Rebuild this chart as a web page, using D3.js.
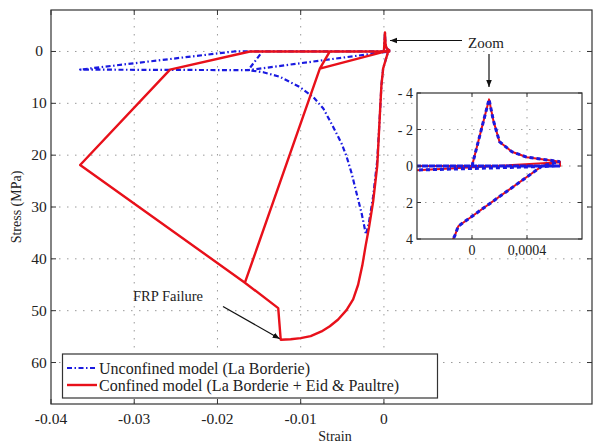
<!DOCTYPE html>
<html><head><meta charset="utf-8">
<script src="https://cdn.jsdelivr.net/npm/d3@7"></script>
<style>body{margin:0;background:#fff}</style>
</head><body><svg id="c" width="594" height="446"></svg>
<script>
// ---- data ----
const xTicks = [-0.04, -0.03, -0.02, -0.01, 0];
const xTickLabels = ["-0.04", "-0.03", "-0.02", "-0.01", "0"];
const yTicks = [0, 10, 20, 30, 40, 50, 60];
const yTickLabels = ["0", "10", "20", "30", "40", "50", "60"];
const insetXTicks = [0, 0.0004];
const insetXTickLabels = ["0", "0,0004"];
const insetYTicks = [-4, -2, 0, 2, 4];
const insetYTickLabels = ["- 4", "- 2", "0", "2", "4"];
const seriesNames = ["Unconfined model (La Borderie)", "Confined model (La Borderie + Eid & Paultre)"];

const confinedStrain = [0, 0.000124, 0.000155, 0.0002, 0.00029, 0.0004, 0.00059, 0.00064, 0.00051,
  -0.0001, -0.000124, -0.0003, -0.0005, -0.0008, -0.0013, -0.0018, -0.0022, -0.0026, -0.0031, -0.0037,
  -0.0045, -0.0055, -0.0065, -0.0075, -0.0088, -0.0100, -0.0112, -0.0124, -0.0127, -0.0167, -0.0077,
  -0.0065, 0.00064, 0.00064, -0.0077, -0.0167, -0.0365, -0.0257, -0.0161, 0.00064];
const confinedStress = [0, -3.65, -2.5, -1.33, -0.78, -0.48, -0.29, -0.24, 0,
  3.3, 3.8, 6.5, 12.6, 22, 29, 34, 37.5, 41.3, 45, 47.8,
  49.9, 51.7, 53, 54, 54.9, 55.3, 55.5, 55.6, 49.5, 44.6, 3.3,
  0, 0, -0.2, 3.3, 44.6, 21.9, 3.5, 0, 0];

const unconfinedStrain = [0, 0.000124, 0.000155, 0.0002, 0.00029, 0.0004, 0.00059, 0.00064, 0.00051,
  -0.0001, -0.000124, -0.0003, -0.0005, -0.0008, -0.0013, -0.0018, -0.00216, -0.00268, -0.00328,
  -0.00388, -0.00448, -0.00508, -0.00608, -0.00728, -0.00848, -0.01008, -0.01248, -0.0145, -0.0163,
  -0.0146, 0.00064, -0.0163, -0.0365, -0.0180, 0.00064];
const unconfinedStress = [0, -3.65, -2.5, -1.33, -0.78, -0.48, -0.29, -0.24, 0,
  3.3, 3.8, 6.5, 12.6, 21, 28, 33, 35.3, 31.2, 27.4,
  23.5, 20.3, 17.8, 14.6, 11.0, 8.8, 6.9, 4.9, 4.0, 3.6,
  0, 0, 3.6, 3.5, 0, 0];

// ---- setup ----
const svg = d3.select("#c");
const FONT = "'Liberation Serif','Times New Roman',serif";
const TXT = "#222";
const RED = "#e8101a", BLUE = "#1a1ae0";
const M = {l: 51, r: 592, t: 10, b: 404};
const x = d3.scaleLinear().domain([-0.04, 0.025]).range([M.l, M.r]);
const y = d3.scaleLinear().domain([-8, 68]).range([M.t, M.b]);

const conf = confinedStrain.map((s, i) => [s, confinedStress[i]]);
const unconf = unconfinedStrain.map((s, i) => [s, unconfinedStress[i]]);

const defs = svg.append("defs");
defs.append("clipPath").attr("id", "mainclip").append("rect")
  .attr("x", M.l).attr("y", M.t).attr("width", M.r - M.l).attr("height", M.b - M.t);
const mk = defs.append("marker").attr("id", "arr").attr("viewBox", "0 0 10 10")
  .attr("refX", 10).attr("refY", 5).attr("markerWidth", 7).attr("markerHeight", 7)
  .attr("markerUnits", "userSpaceOnUse").attr("orient", "auto");
mk.append("path").attr("d", "M0,1 L10,5 L0,9 Z").attr("fill", "#111");

// grid
const g = svg.append("g");
g.selectAll(".gx").data(xTicks.slice(1)).enter().append("line")
  .attr("x1", d => x(d)).attr("x2", d => x(d)).attr("y1", M.t).attr("y2", M.b)
  .attr("stroke", "#9a9a9a").attr("stroke-width", 1).attr("stroke-dasharray", "1.5,6.5");
g.selectAll(".gy").data(yTicks).enter().append("line")
  .attr("x1", M.l).attr("x2", M.r).attr("y1", d => y(d)).attr("y2", d => y(d))
  .attr("stroke", "#9a9a9a").attr("stroke-width", 1).attr("stroke-dasharray", "1.5,6.5");

// curves
const line = d3.line().x(d => x(d[0])).y(d => y(d[1]));
const cg = svg.append("g").attr("clip-path", "url(#mainclip)");
cg.append("path").attr("d", line(unconf)).attr("fill", "none").attr("stroke", BLUE)
  .attr("stroke-width", 2.2).attr("stroke-dasharray", "5,2.5,1.5,2.5").attr("stroke-linejoin", "round");
cg.append("path").attr("d", line(conf)).attr("fill", "none").attr("stroke", RED)
  .attr("stroke-width", 2.4).attr("stroke-linejoin", "round");

// frame and ticks
const fr = svg.append("g");
fr.append("rect").attr("x", M.l).attr("y", M.t).attr("width", M.r - M.l).attr("height", M.b - M.t)
  .attr("fill", "none").attr("stroke", "#333").attr("stroke-width", 1.2);
xTicks.forEach(t => {
  fr.append("line").attr("x1", x(t)).attr("x2", x(t)).attr("y1", M.b).attr("y2", M.b - 5).attr("stroke", "#333");
  fr.append("line").attr("x1", x(t)).attr("x2", x(t)).attr("y1", M.t).attr("y2", M.t + 5).attr("stroke", "#333");
});
yTicks.forEach(t => {
  fr.append("line").attr("x1", M.l).attr("x2", M.l + 5).attr("y1", y(t)).attr("y2", y(t)).attr("stroke", "#333");
  fr.append("line").attr("x1", M.r).attr("x2", M.r - 5).attr("y1", y(t)).attr("y2", y(t)).attr("stroke", "#333");
});
fr.selectAll(".xl").data(xTicks).enter().append("text")
  .attr("x", d => x(d)).attr("y", 424).attr("text-anchor", "middle")
  .attr("font-family", FONT).attr("font-size", 15.5).attr("fill", TXT)
  .text((d, i) => xTickLabels[i]);
fr.selectAll(".yl").data(yTicks).enter().append("text")
  .attr("x", 39).attr("y", d => y(d) + 5).attr("text-anchor", "middle")
  .attr("font-family", FONT).attr("font-size", 15.5).attr("fill", TXT)
  .text((d, i) => yTickLabels[i]);
svg.append("text").attr("x", 335).attr("y", 441).attr("text-anchor", "middle")
  .attr("font-family", FONT).attr("font-size", 14).attr("fill", TXT).text("Strain");
svg.append("text").attr("transform", "translate(21,207) rotate(-90)").attr("text-anchor", "middle")
  .attr("font-family", FONT).attr("font-size", 14).attr("fill", TXT).text("Stress (MPa)");

// legend
const lg = svg.append("g");
lg.append("rect").attr("x", 62.5).attr("y", 354).attr("width", 375).attr("height", 44)
  .attr("fill", "#fff").attr("stroke", "#333").attr("stroke-width", 1.2);
const legY = [368, 385];
lg.append("line").attr("x1", 67).attr("x2", 97).attr("y1", legY[0]).attr("y2", legY[0])
  .attr("stroke", BLUE).attr("stroke-width", 2.2).attr("stroke-dasharray", "5,2.5,1.5,2.5");
lg.append("line").attr("x1", 67).attr("x2", 97).attr("y1", legY[1]).attr("y2", legY[1])
  .attr("stroke", RED).attr("stroke-width", 2.4);
seriesNames.forEach((n, i) => {
  lg.append("text").attr("x", 99).attr("y", legY[i] + 5.5).attr("font-family", FONT)
    .attr("font-size", 16).attr("fill", TXT).text(n);
});

// annotations
svg.append("text").attr("x", 133).attr("y", 301).attr("font-family", FONT).attr("font-size", 14.5)
  .attr("fill", TXT).text("FRP Failure");
svg.append("line").attr("x1", 223).attr("y1", 306.5).attr("x2", x(-0.0124) - 1).attr("y2", y(55.6) - 1)
  .attr("stroke", "#111").attr("stroke-width", 1.2).attr("marker-end", "url(#arr)");
svg.append("text").attr("x", 468).attr("y", 48).attr("font-family", FONT).attr("font-size", 15)
  .attr("fill", TXT).text("Zoom");
svg.append("line").attr("x1", 462).attr("y1", 40.5).attr("x2", 390).attr("y2", 40.5)
  .attr("stroke", "#111").attr("stroke-width", 1.2).attr("marker-end", "url(#arr)");
svg.append("line").attr("x1", 489).attr("y1", 54).attr("x2", 489).attr("y2", 87)
  .attr("stroke", "#111").attr("stroke-width", 1.2).attr("marker-end", "url(#arr)");

// ---- inset ----
const I = {l: 417, r: 582, t: 93, b: 239};
const xi = d3.scaleLinear().domain([-0.0004, 0.0008]).range([I.l, I.r]);
const yi = d3.scaleLinear().domain([-4, 4]).range([I.t, I.b]);
defs.append("clipPath").attr("id", "insclip").append("rect")
  .attr("x", I.l).attr("y", I.t).attr("width", I.r - I.l).attr("height", I.b - I.t);
const ig = svg.append("g");
ig.append("rect").attr("x", I.l).attr("y", I.t).attr("width", I.r - I.l).attr("height", I.b - I.t)
  .attr("fill", "#fff");
ig.selectAll(".igx").data(insetXTicks).enter().append("line")
  .attr("x1", d => xi(d)).attr("x2", d => xi(d)).attr("y1", I.t).attr("y2", I.b)
  .attr("stroke", "#9a9a9a").attr("stroke-dasharray", "1.5,6.5");
ig.selectAll(".igy").data(insetYTicks.slice(1, -1)).enter().append("line")
  .attr("x1", I.l).attr("x2", I.r).attr("y1", d => yi(d)).attr("y2", d => yi(d))
  .attr("stroke", "#9a9a9a").attr("stroke-dasharray", "1.5,6.5");
const iline = d3.line().x(d => xi(d[0])).y(d => yi(d[1]));
const icg = ig.append("g").attr("clip-path", "url(#insclip)");
icg.append("path").attr("d", iline(conf)).attr("fill", "none").attr("stroke", RED)
  .attr("stroke-width", 2).attr("stroke-linejoin", "round");
icg.append("path").attr("d", iline(unconf)).attr("fill", "none").attr("stroke", BLUE)
  .attr("stroke-width", 3).attr("stroke-dasharray", "4,3");
ig.append("rect").attr("x", I.l).attr("y", I.t).attr("width", I.r - I.l).attr("height", I.b - I.t)
  .attr("fill", "none").attr("stroke", "#333").attr("stroke-width", 1.2);
insetXTicks.forEach(t => {
  ig.append("line").attr("x1", xi(t)).attr("x2", xi(t)).attr("y1", I.t).attr("y2", I.t + 4).attr("stroke", "#333");
  ig.append("line").attr("x1", xi(t)).attr("x2", xi(t)).attr("y1", I.b).attr("y2", I.b - 4).attr("stroke", "#333");
});
insetYTicks.forEach(t => {
  ig.append("line").attr("x1", I.l).attr("x2", I.l + 4).attr("y1", yi(t)).attr("y2", yi(t)).attr("stroke", "#333");
  ig.append("line").attr("x1", I.r).attr("x2", I.r - 4).attr("y1", yi(t)).attr("y2", yi(t)).attr("stroke", "#333");
});
ig.selectAll(".ixl").data(insetXTicks).enter().append("text")
  .attr("x", d => xi(d)).attr("y", 255).attr("text-anchor", "middle")
  .attr("font-family", FONT).attr("font-size", 14).attr("fill", TXT)
  .text((d, i) => insetXTickLabels[i]);
ig.selectAll(".iyl").data(insetYTicks).enter().append("text")
  .attr("x", 413).attr("y", d => yi(d) + 5).attr("text-anchor", "end")
  .attr("font-family", FONT).attr("font-size", 14).attr("fill", TXT)
  .text((d, i) => insetYTickLabels[i]);
</script>
</body></html>
